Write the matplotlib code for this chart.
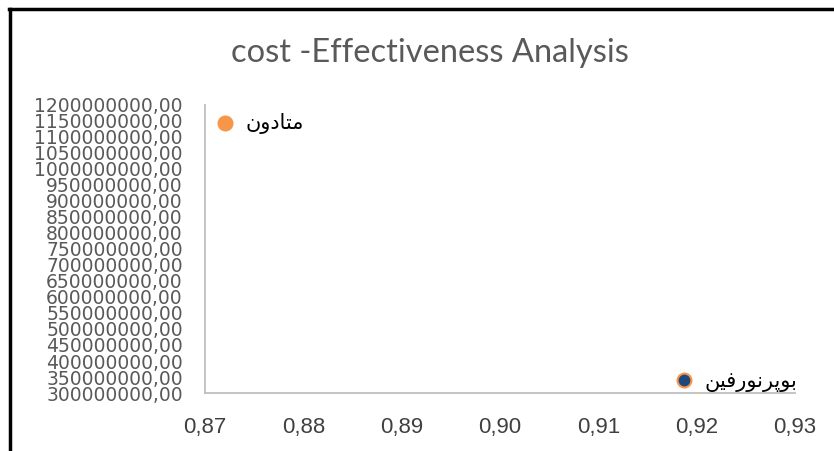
import numpy as np
import matplotlib.pyplot as plt
from matplotlib.lines import Line2D
from matplotlib.ticker import FuncFormatter

# data
effect = [0.8720, 0.9187]
cost = [1145000000, 340000000]
# Arabic-script labels written in presentation forms, visual order
# (matplotlib does no Arabic shaping) : متادون , بوپرنورفین
names = ["\ufee5\ufeed\ufea9\ufe8e\ufe98\ufee3",
         "\ufee6\ufbff\ufed3\ufead\ufeee\ufee7\ufeae\ufb58\ufeee\ufe91"]
face = ["#F79646", "#1F497D"]

x_ticks = [0.87, 0.88, 0.89, 0.90, 0.91, 0.92, 0.93]
y_ticks = np.arange(300000000, 1200000001, 50000000)

fig = plt.figure(figsize=(8.34, 4.51), dpi=100)
ax = fig.add_axes([0.2458, 0.1286, 0.7074, 0.6386])

for i in range(len(effect)):
    ax.scatter(effect[i], cost[i], s=100, color=face[i],
               edgecolors="#F79646", linewidths=1.5, zorder=3, clip_on=False)
    ax.annotate(names[i], (effect[i], cost[i]), xytext=(15, -1),
                textcoords="offset points", va="center", ha="left",
                fontsize=15, family=["DejaVu Sans"], color="black")

ax.set_xlim(0.87, 0.93)
ax.set_ylim(300000000, 1200000000)
ax.set_xticks(x_ticks)
ax.set_yticks(y_ticks)
ax.xaxis.set_major_formatter(FuncFormatter(lambda v, p: f"{v:.2f}".replace(".", ",")))
ax.yaxis.set_major_formatter(FuncFormatter(lambda v, p: f"{v:.2f}".replace(".", ",")))

for lab in ax.get_yticklabels():
    lab.set_fontfamily("DejaVu Sans")
    lab.set_fontsize(13.5)
    lab.set_color("#595959")
for lab in ax.get_xticklabels():
    lab.set_fontfamily("Liberation Sans")
    lab.set_fontsize(16)
    lab.set_color("#404040")

ax.tick_params(axis="both", length=0)
ax.tick_params(axis="y", pad=16)
ax.tick_params(axis="x", pad=17)

for side in ["top", "right"]:
    ax.spines[side].set_visible(False)
for side in ["left", "bottom"]:
    ax.spines[side].set_color("#BFBFBF")
    ax.spines[side].set_linewidth(1.3)

fig.text(0.516, 0.882, "cost -Effectiveness Analysis", ha="center", va="center",
         fontsize=23.5, family="Lato", color="#595959")

# outer frame, top and left edges only
fig.add_artist(Line2D([9 / 834, 1.0], [1 - 9 / 451, 1 - 9 / 451],
                      color="black", linewidth=2.5, transform=fig.transFigure))
fig.add_artist(Line2D([10 / 834, 10 / 834], [0, 1 - 9 / 451],
                      color="black", linewidth=2.5, transform=fig.transFigure))

fig.savefig("out.png", dpi=100)
